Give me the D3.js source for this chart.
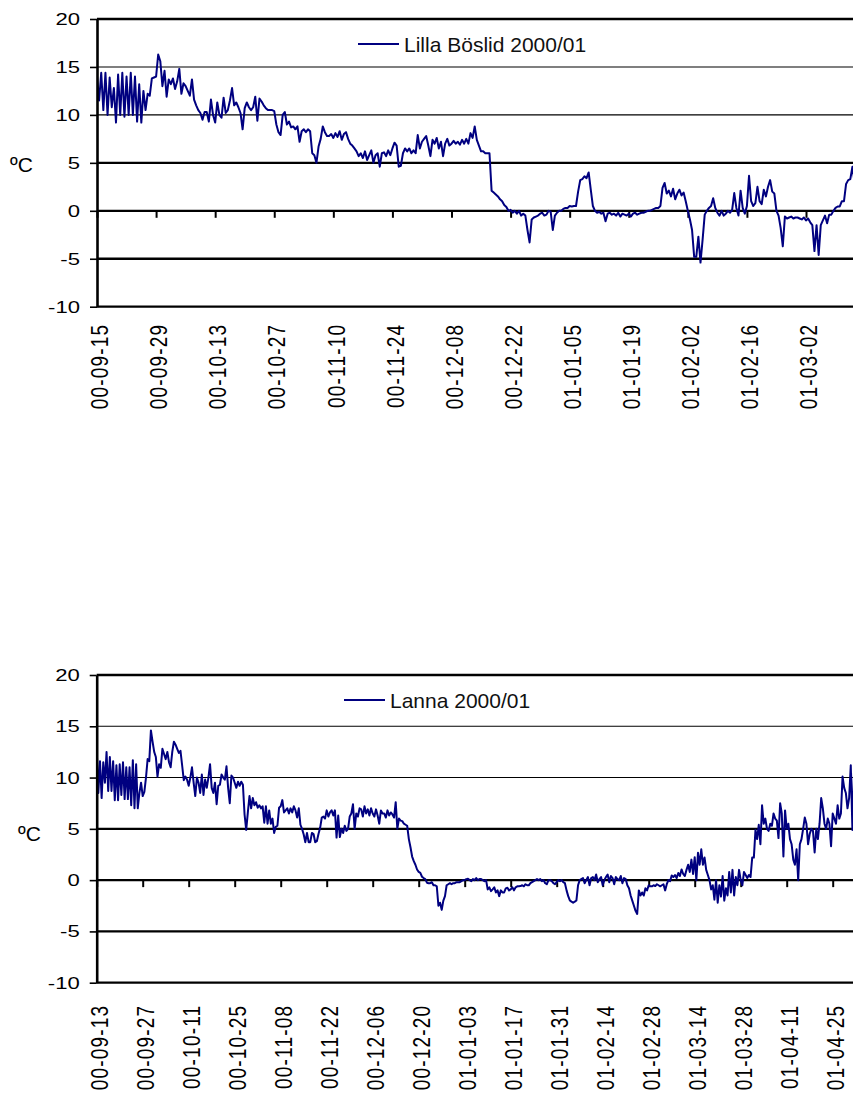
<!DOCTYPE html>
<html>
<head>
<meta charset="utf-8">
<script src="https://cdn.jsdelivr.net/npm/d3@7"></script>
<style>
  html, body { margin: 0; padding: 0; background: #fff; }
  svg { display: block; font-family: "Liberation Sans", Arial, sans-serif; }
</style>
</head>
<body>
<svg id="chart" width="853" height="1097"></svg>
<script>
// Air temperature, two readings a day (12 h apart), winter 2000/01.

const lillaBoslidName = "Lilla Böslid 2000/01";
const lillaBoslidStart = "00-09-15";
const lillaBoslidTemps = [
  14.0,11.5,14.4,10.5,14.4,10.0,13.9,10.8,12.8,9.2,14.2,10.0,14.4,9.8,
  14.0,10.0,14.4,10.0,14.0,9.3,13.2,9.2,12.5,10.5,12.2,12.0,13.8,13.9,
  14.0,16.3,15.6,13.0,14.6,11.9,13.7,13.2,13.8,12.7,13.5,14.8,12.2,13.3,
  13.0,12.5,12.0,13.7,11.6,11.0,10.5,10.2,9.5,10.3,10.3,9.3,11.6,10.0,
  9.2,11.3,10.0,9.7,11.8,10.2,10.5,11.5,12.8,11.0,11.3,10.8,10.2,8.5,
  10.7,11.3,10.8,10.5,10.8,11.9,9.4,11.7,11.4,11.0,10.7,10.5,10.5,10.5,
  10.4,9.0,8.2,7.9,10.0,10.3,9.0,9.3,8.7,8.8,8.5,8.8,7.2,8.3,
  8.5,8.2,8.5,8.3,6.0,5.8,5.0,6.7,7.5,8.8,8.2,7.8,7.8,8.0,
  7.6,8.1,7.7,8.3,7.4,8.0,8.2,7.5,7.0,6.8,6.5,6.2,5.7,6.0,
  5.5,6.2,5.3,5.8,6.3,5.0,5.8,6.0,4.6,6.0,6.1,5.7,6.3,5.8,
  6.5,7.1,6.8,4.6,4.7,6.0,6.5,6.2,6.5,6.0,6.3,6.0,7.9,6.5,
  7.2,7.5,7.8,6.8,5.7,7.4,7.0,7.6,6.5,7.2,5.7,7.0,7.5,6.8,
  7.0,7.3,7.0,7.2,6.9,7.4,7.0,7.5,7.0,8.1,7.6,8.8,7.4,6.8,
  6.2,6.2,6.0,6.0,6.0,2.1,1.9,1.7,1.5,1.2,1.0,0.6,0.4,0.0,
  0.1,-0.2,0.0,-0.3,0.0,-0.5,-0.3,-0.5,-2.0,-3.3,-0.9,-0.7,-0.6,-0.5,
  -0.3,-0.2,-0.5,-0.4,0.0,-0.1,-2.0,-0.5,-0.2,0.0,0.0,0.2,0.3,0.3,
  0.5,0.45,0.5,0.5,2.0,3.2,3.3,3.6,3.4,4.0,2.2,0.5,0.0,-0.2,
  -0.1,-0.3,-0.2,-1.1,-0.3,-0.2,-0.4,-0.3,-0.5,-0.2,-0.6,-0.3,-0.4,-0.5,
  -0.3,-0.6,-0.3,-0.2,-0.4,-0.3,-0.2,-0.2,-0.1,0.0,0.0,0.1,0.2,0.3,
  0.3,0.5,2.4,2.9,1.8,2.1,1.5,2.3,1.2,1.8,2.2,1.6,1.9,1.0,
  0.0,-0.9,-2.0,-4.8,-4.8,-2.7,-5.4,-3.0,-0.4,0.0,0.3,0.5,1.3,0.3,
  -0.2,-0.5,0.0,-0.5,-0.3,0.0,-0.2,0.1,1.85,0.3,-0.5,2.1,0.3,-0.3,
  0.5,3.65,1.0,0.5,0.8,2.5,1.0,0.7,2.2,1.5,2.5,3.2,2.0,1.8,
  0.0,-0.5,-1.8,-3.7,-0.6,-0.8,-0.7,-0.6,-0.8,-0.7,-0.7,-0.8,-0.9,-0.7,
  -1.0,-0.8,-1.2,-1.5,-4.2,-1.5,-4.6,-1.5,-1.0,-0.5,-1.3,-0.4,-0.4,0.0,
  0.3,0.45,0.45,1.0,1.0,2.8,3.2,3.3,4.6,3.0
];
const lillaBoslidTicks = [
  "00-09-15","00-09-29","00-10-13","00-10-27","00-11-10","00-11-24","00-12-08",
  "00-12-22","01-01-05","01-01-19","01-02-02","01-02-16","01-03-02"
];

const lannaName = "Lanna 2000/01";
const lannaStart = "00-09-13";
const lannaTemps = [
  12.8,8.5,11.6,8.0,11.5,9.5,12.5,8.7,12.0,8.7,11.6,7.8,11.2,7.8,
  11.3,8.3,11.5,7.9,11.0,7.9,11.0,7.3,11.7,7.0,11.3,7.0,8.5,9.5,
  8.2,8.6,10.0,11.8,11.6,14.6,13.5,12.5,12.0,10.1,11.3,10.95,12.8,12.3,
  11.8,12.5,11.5,11.0,12.5,13.5,13.2,12.8,12.4,12.6,11.2,9.75,10.1,9.8,
  9.2,10.0,11.0,9.5,8.2,10.0,9.5,8.5,10.3,8.3,9.8,9.0,10.0,11.3,
  9.0,8.5,9.5,7.4,9.2,9.3,10.3,10.0,9.8,11.1,9.0,7.5,10.2,10.0,
  9.5,9.0,9.6,9.2,9.6,9.3,6.4,4.9,6.6,8.2,7.0,8.0,7.3,7.6,
  7.05,7.3,7.0,7.2,5.6,7.2,5.5,6.8,5.5,6.0,4.6,5.2,5.3,7.05,
  7.2,7.8,6.6,6.8,7.0,6.5,7.0,6.6,7.2,6.8,6.1,7.0,5.4,5.0,
  4.45,3.7,4.6,3.7,3.7,4.6,4.5,3.7,3.8,4.5,5.1,6.1,6.2,6.0,
  6.8,6.2,6.6,6.8,6.3,6.8,4.15,6.3,4.2,5.0,4.6,5.3,4.8,5.0,
  6.2,6.5,7.4,5.0,6.5,6.2,7.0,6.9,6.2,7.2,6.5,6.9,6.3,7.0,
  6.5,6.2,6.9,6.3,5.5,6.8,6.5,6.5,6.1,6.8,6.3,6.6,6.4,6.1,
  7.6,5.0,6.0,5.8,5.75,5.5,5.4,5.3,4.0,3.2,2.3,1.85,1.5,1.04,
  0.8,0.7,0.33,0.2,0.1,-0.25,-0.3,-0.3,-0.2,-0.5,-0.5,-0.6,-2.5,-2.2,
  -2.9,-2.0,-1.56,-0.5,-0.4,-0.3,-0.4,-0.3,-0.3,-0.2,-0.2,-0.2,-0.1,0.0,
  0.0,0.1,0.13,0.0,-0.1,0.1,0.0,0.2,0.0,0.1,0.1,0.0,-0.1,0.0,
  -0.9,-0.7,-1.07,-0.9,-0.7,-1.2,-1.0,-1.56,-1.0,-1.2,-1.2,-0.8,-0.74,-1.0,
  -0.9,-0.7,-1.0,-0.7,-0.6,-0.6,-0.58,-0.5,-0.6,-0.4,-0.5,-0.5,-0.3,-0.2,
  -0.1,0.0,0.1,0.0,0.1,-0.1,0.0,-0.3,-0.4,0.0,0.0,-0.1,-0.3,-0.4,
  -0.2,0.0,-0.1,0.0,-0.2,-0.3,-1.0,-1.56,-1.98,-2.1,-2.2,-2.1,-1.98,-0.5,
  0.0,0.1,0.2,-0.3,0.0,0.3,-0.5,0.2,0.3,0.0,0.55,-0.2,0.1,0.3,
  -0.5,0.0,0.3,0.55,-0.2,0.4,0.2,-0.4,0.3,0.1,0.0,0.4,-0.3,0.2,
  0.1,-0.5,-0.8,-1.5,-2.0,-2.5,-3.0,-3.3,-1.0,-1.5,-1.2,-1.5,-0.8,-1.0,
  -0.5,-0.6,-0.6,-0.5,-0.58,-0.4,-0.5,-0.6,-0.5,-0.4,-1.0,-0.4,0.0,-0.1,
  0.46,0.3,0.5,0.2,0.7,0.4,1.04,0.6,0.4,1.0,1.5,0.8,2.0,0.6,
  2.24,0.0,2.67,1.5,3.0,1.5,2.2,1.0,0.5,0.0,-0.9,-0.5,-1.9,0.0,
  -2.2,-0.5,-1.6,0.4,-2.0,-0.8,-1.5,0.8,-1.2,1.0,-1.5,0.3,-0.5,1.0,
  0.0,-0.5,0.8,0.5,0.2,0.5,0.3,2.2,2.2,4.9,4.0,5.4,3.5,7.3,
  5.5,6.0,5.0,4.8,5.5,5.3,6.5,6.0,5.8,4.1,7.5,6.5,2.3,6.8,
  5.0,5.5,4.0,3.5,2.0,1.5,3.0,0.0,3.5,4.0,5.0,6.1,5.5,3.5,
  4.5,5.0,4.8,2.7,5.0,4.0,5.5,8.0,7.0,5.5,5.0,6.0,5.5,3.3,
  6.5,6.0,5.5,7.3,6.0,6.5,10.1,9.0,8.5,7.0,8.0,11.2,4.9,10.8
];
const lannaTicks = [
  "00-09-13","00-09-27","00-10-11","00-10-25","00-11-08","00-11-22","00-12-06",
  "00-12-20","01-01-03","01-01-17","01-01-31","01-02-14","01-02-28","01-03-14",
  "01-03-28","01-04-11","01-04-25"
];

const tempTicks = [20, 15, 10, 5, 0, -5, -10];
const thinGridTicks = [15, 10];
const unitLabel = "ºC";
const readingStepHours = 12;

// Panel layout (pixels)
const W = 853;
const panels = [
  { name: lillaBoslidName, start: lillaBoslidStart, temps: lillaBoslidTemps, ticks: lillaBoslidTicks,
    left: 97, lastTickX: 806, top: 19, bottom: 306.7, labelPad: 17,
    legendX: 358, unitX: 10, unitY: 172 },
  { name: lannaName, start: lannaStart, temps: lannaTemps, ticks: lannaTicks,
    left: 96.7, lastTickX: 832.7, top: 675, bottom: 982.7, labelPad: 22,
    legendX: 344, unitX: 18, unitY: 841 }
];

const parseDay = d3.utcParse("%y-%m-%d");
const fmtDay = d3.utcFormat("%y-%m-%d");
const svg = d3.select("#chart");
const LINE = "#000080";
const FONT = "'Liberation Sans', Arial, sans-serif";

panels.forEach((p, pi) => {
  const g = svg.append("g");
  const tickDates = p.ticks.map(parseDay);
  const t0 = parseDay(p.start);
  const series = p.temps.map((v, i) => ({ t: d3.utcHour.offset(t0, i * readingStepHours), v }));

  const x = d3.scaleUtc()
    .domain([tickDates[0], tickDates[tickDates.length - 1]])
    .range([p.left, p.lastTickX]);
  const y = d3.scaleLinear().domain([-10, 20]).range([p.bottom, p.top]);

  // horizontal gridlines
  g.append("g").selectAll("line").data(tempTicks).join("line")
    .attr("x1", p.left).attr("x2", W)
    .attr("y1", d => y(d)).attr("y2", d => y(d))
    .attr("stroke", "#000")
    .attr("stroke-width", d => thinGridTicks.includes(d) ? 1.1 : 2.3);

  // category tick marks hanging from the zero line
  const xTickAxis = g.append("g")
    .attr("transform", `translate(0,${y(0)})`)
    .call(d3.axisBottom(x).tickValues(tickDates).tickSize(7).tickSizeOuter(0).tickFormat(""));
  xTickAxis.select(".domain").remove();
  xTickAxis.selectAll(".tick line").attr("stroke", "#000").attr("stroke-width", 2);

  // date labels under the plot
  const xLabelAxis = g.append("g")
    .attr("transform", `translate(0,${y(-10)})`)
    .call(d3.axisBottom(x).tickValues(tickDates).tickSize(0).tickFormat(fmtDay));
  xLabelAxis.select(".domain").remove();
  xLabelAxis.selectAll(".tick text")
    .attr("x", 0).attr("y", 0).attr("dy", "0.45em")
    .attr("text-anchor", "end")
    .attr("transform", `translate(0,${p.labelPad}) scale(1.25,1) rotate(-90)`)
    .attr("fill", "#000")
    .style("font-size", "19px")
    .style("letter-spacing", "1.2px")
    .style("font-family", FONT);

  // temperature series
  const clipId = "clip" + pi;
  g.append("clipPath").attr("id", clipId)
    .append("rect").attr("x", p.left).attr("y", p.top - 10)
    .attr("width", W - p.left).attr("height", p.bottom - p.top + 20);
  g.append("path")
    .datum(series)
    .attr("clip-path", `url(#${clipId})`)
    .attr("fill", "none")
    .attr("stroke", LINE)
    .attr("stroke-width", 2)
    .attr("stroke-linejoin", "round")
    .attr("d", d3.line().x(d => x(d.t)).y(d => y(d.v)));

  // value axis
  const yAxis = g.append("g")
    .attr("transform", `translate(${p.left},0)`)
    .call(d3.axisLeft(y).tickValues(tempTicks).tickSize(7).tickSizeOuter(0).tickFormat(d => String(d)));
  yAxis.select(".domain").attr("stroke", "#000").attr("stroke-width", 2.6);
  yAxis.selectAll(".tick line").attr("stroke", "#000").attr("stroke-width", 1.6);
  yAxis.selectAll(".tick text")
    .attr("x", -17 / 1.3)
    .attr("transform", "scale(1.3,1)")
    .attr("fill", "#000")
    .style("font-size", "17px")
    .style("font-family", FONT);

  // unit label
  g.append("text")
    .attr("x", p.unitX).attr("y", p.unitY)
    .attr("fill", "#000")
    .style("font-size", "21px")
    .text(unitLabel);

  // legend
  const ly = p.top + 25;
  g.append("line")
    .attr("x1", p.legendX).attr("x2", p.legendX + 41)
    .attr("y1", ly).attr("y2", ly)
    .attr("stroke", LINE).attr("stroke-width", 2);
  g.append("text")
    .attr("x", p.legendX + 46).attr("y", ly).attr("dy", "0.36em")
    .attr("fill", "#111")
    .style("font-size", "21px")
    .text(p.name);
});
</script>
</body>
</html>
